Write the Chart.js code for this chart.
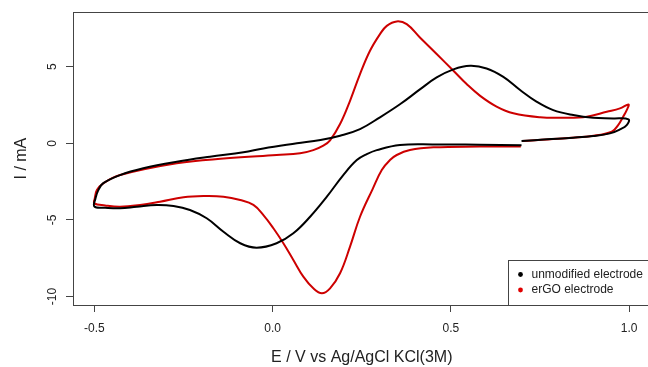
<!DOCTYPE html>
<html>
<head>
<meta charset="utf-8">
<script src="https://cdn.jsdelivr.net/npm/chart.js@4.4.1/dist/chart.umd.min.js"></script>
<style>
  html, body { margin: 0; padding: 0; background: #fff; overflow: hidden; }
  #wrap { width: 660px; height: 367px; position: relative; }
</style>
</head>
<body>
<div id="wrap"><canvas id="c"></canvas></div>
<script>
// ---- Data ----
const seriesNames = ['unmodified electrode', 'erGO electrode'];
const seriesColors = ['#000000', '#CD0000'];
const legendDotColors = ['#000000', '#E00000'];

// unmodified electrode: potential (V) and current (mA), in scan order
const unmodE = [0.698, 0.58, 0.451, 0.357, 0.292, 0.264, 0.236, 0.198, 0.152, 0.105, 0.058, 0.011, -0.045, -0.091, -0.138, -0.185, -0.232, -0.278, -0.325, -0.381, -0.428, -0.47, -0.5,
  -0.497, -0.489, -0.475, -0.428, -0.363, -0.269, -0.176, -0.082, -0.026, 0.068, 0.134, 0.189, 0.245, 0.301, 0.357, 0.413, 0.46, 0.507, 0.554, 0.6, 0.647, 0.694, 0.741, 0.787, 0.843, 0.899, 0.955, 0.998,
  0.993, 0.974, 0.946, 0.899, 0.843, 0.769, 0.698];
const unmodI = [-0.12, -0.09, -0.07, -0.11, -0.44, -0.7, -1.09, -2.07, -3.48, -4.79, -5.87, -6.52, -6.81, -6.52, -5.77, -4.89, -4.35, -4.09, -4.02, -4.13, -4.24, -4.2, -4.12,
  -3.6, -3.05, -2.6, -2.07, -1.63, -1.2, -0.87, -0.58, -0.33, 0.0, 0.22, 0.5, 0.93, 1.7, 2.55, 3.52, 4.3, 4.83, 5.06, 4.89, 4.34, 3.48, 2.71, 2.17, 1.85, 1.67, 1.63, 1.57,
  1.19, 0.91, 0.65, 0.48, 0.37, 0.26, 0.15];

// erGO electrode: potential (V) and current (mA), in scan order
const ergoE = [0.696, 0.58, 0.451, 0.385, 0.348, 0.329, 0.306, 0.28, 0.245, 0.217, 0.189, 0.161, 0.138, 0.114, 0.086, 0.058, 0.03, 0.002, -0.026, -0.054, -0.091, -0.138, -0.194, -0.25, -0.316, -0.372, -0.428, -0.47, -0.5,
  -0.499, -0.493, -0.475, -0.428, -0.269, -0.129, 0.011, 0.077, 0.114, 0.142, 0.161, 0.189, 0.217, 0.245, 0.273, 0.301, 0.32, 0.348, 0.376, 0.413, 0.46, 0.507, 0.544, 0.582, 0.628, 0.675, 0.75, 0.815, 0.881, 0.937, 0.974, 0.998,
  0.993, 0.983, 0.969, 0.951, 0.9, 0.8, 0.7];
const ergoI = [-0.21, -0.21, -0.26, -0.44, -0.76, -1.09, -1.74, -3.0, -4.79, -6.74, -8.48, -9.46, -9.78, -9.46, -8.7, -7.61, -6.52, -5.54, -4.68, -4.02, -3.7, -3.48, -3.44, -3.52, -3.81, -4.02, -4.13, -4.05, -3.92,
  -3.6, -3.05, -2.61, -2.07, -1.3, -0.98, -0.76, -0.65, -0.44, -0.15, 0.2, 1.26, 2.78, 4.52, 6.04, 7.13, 7.67, 7.96, 7.78, 6.91, 5.83, 4.74, 3.87, 3.1, 2.4, 1.96, 1.7, 1.67, 1.74, 2.06, 2.28, 2.54,
  2.17, 1.74, 1.19, 0.76, 0.5, 0.3, 0.15];

const xTicks = [-0.5, 0.0, 0.5, 1.0];
const yTicks = [-10, -5, 0, 5];
const xTitle = 'E / V vs Ag/AgCl KCl(3M)';
const yTitle = 'I / mA';

// ---- Build chart ----
const FONT = "'Liberation Sans', Arial, sans-serif";
const toPts = (xs, ys) => xs.map((x, i) => ({ x: x, y: ys[i] }));

const boxPlugin = {
  id: 'rbox',
  afterDraw(chart) {
    const { ctx, chartArea: a } = chart;
    ctx.save();
    // plot frame
    ctx.strokeStyle = '#444';
    ctx.lineWidth = 1;
    ctx.strokeRect(Math.round(a.left) + 0.5, Math.round(a.top) + 0.5, Math.round(a.right - a.left), Math.round(a.bottom - a.top));
    // legend box (bottom-right, inside plot)
    const lx = 508, ly = 260;
    const lw = a.right - lx, lh = a.bottom - ly;
    ctx.fillStyle = '#fff';
    ctx.fillRect(lx, ly, lw, lh);
    ctx.strokeRect(lx + 0.5, ly + 0.5, lw, lh);
    ctx.font = '12px ' + FONT;
    ctx.textBaseline = 'middle';
    ctx.textAlign = 'left';
    const rows = [274.5, 290];
    seriesNames.forEach((name, i) => {
      ctx.fillStyle = legendDotColors[i];
      ctx.beginPath();
      ctx.arc(520.5, rows[i], 2.4, 0, Math.PI * 2);
      ctx.fill();
      ctx.fillStyle = '#222';
      ctx.fillText(name, 531.5, rows[i]);
    });
    ctx.restore();
  }
};

new Chart(document.getElementById('c'), {
  type: 'scatter',
  data: {
    datasets: [
      { label: seriesNames[0], data: toPts(unmodE, unmodI), showLine: true, borderColor: seriesColors[0], backgroundColor: seriesColors[0], borderWidth: 2, pointRadius: 0, tension: 0.4, order: 0 },
      { label: seriesNames[1], data: toPts(ergoE, ergoI), showLine: true, borderColor: seriesColors[1], backgroundColor: seriesColors[1], borderWidth: 2, pointRadius: 0, tension: 0.4, order: 1 }
    ]
  },
  options: {
    responsive: true,
    maintainAspectRatio: false,
    animation: false,
    devicePixelRatio: 1,
    layout: { padding: { top: 12, right: 9.4, left: 0, bottom: 0 } },
    plugins: { legend: { display: false }, tooltip: { enabled: false } },
    scales: {
      x: {
        type: 'linear', min: -0.56, max: 1.06,
        afterBuildTicks: s => { s.ticks = xTicks.map(v => ({ value: v })); },
        afterFit: s => { s.height = 62; },
        ticks: { color: '#222', padding: 9, font: { family: FONT, size: 12 }, maxRotation: 0, autoSkip: false, callback: v => Number(v).toFixed(1) },
        grid: { drawOnChartArea: false, drawTicks: true, tickLength: 7, color: '#444' },
        border: { display: false },
        title: { display: true, text: xTitle, color: '#222', font: { family: FONT, size: 16 }, padding: { top: 0, bottom: 0 } }
      },
      y: {
        type: 'linear', min: -10.55, max: 8.56,
        afterBuildTicks: s => { s.ticks = yTicks.map(v => ({ value: v })); },
        afterFit: s => { s.width = 73; },
        ticks: { color: '#222', padding: 5, crossAlign: 'center', minRotation: 90, maxRotation: 90, autoSkip: false, font: { family: FONT, size: 12 }, callback: v => String(v) },
        grid: { drawOnChartArea: false, drawTicks: true, tickLength: 7, color: '#444' },
        border: { display: false },
        title: { display: true, text: yTitle, color: '#222', font: { family: FONT, size: 16 }, padding: { top: 12, bottom: 0 } }
      }
    }
  },
  plugins: [boxPlugin]
});
</script>
</body>
</html>
